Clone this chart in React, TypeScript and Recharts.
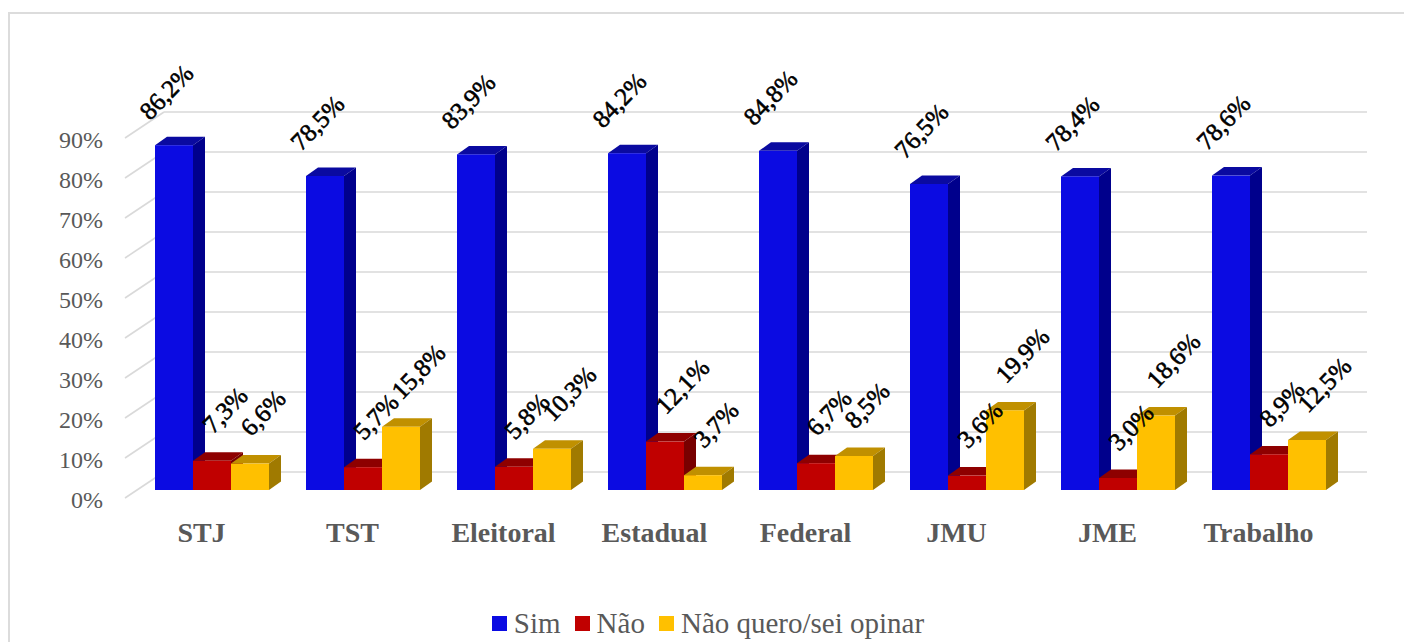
import React from 'react';
import { BarChart, Bar, XAxis, YAxis, CartesianGrid, Legend, LabelList } from 'recharts';

const categories = ['STJ', 'TST', 'Eleitoral', 'Estadual', 'Federal', 'JMU', 'JME', 'Trabalho'];
const simValues = [86.2, 78.5, 83.9, 84.2, 84.8, 76.5, 78.4, 78.6];
const naoValues = [7.3, 5.7, 5.8, 12.1, 6.7, 3.6, 3.0, 8.9];
const opinarValues = [6.6, 15.8, 10.3, 3.7, 8.5, 19.9, 18.6, 12.5];
const yTicks = [0, 10, 20, 30, 40, 50, 60, 70, 80, 90];
const seriesNames = ['Sim', 'Não', 'Não quero/sei opinar'];

const data = categories.map((c, i) => ({
  name: c,
  sim: simValues[i],
  nao: naoValues[i],
  opinar: opinarValues[i],
}));

const FONT = '"Liberation Serif", "Times New Roman", serif';
const DX = 12;
const DY = 8.5;

const COLORS = {
  sim: { front: '#0B0BE2', top: '#0A0AA0', side: '#00008C' },
  nao: { front: '#C00000', top: '#8E0000', side: '#780000' },
  opinar: { front: '#FFC000', top: '#C09000', side: '#A07A00' },
};

const make3D = (c: { front: string; top: string; side: string }) => (props: any) => {
  const { x, y, width, height } = props;
  if (x == null || y == null || !width || height == null) return <g />;
  return (
    <g>
      <polygon
        points={`${x},${y} ${x + DX},${y - DY} ${x + width + DX},${y - DY} ${x + width},${y}`}
        fill={c.top}
      />
      <polygon
        points={`${x + width},${y} ${x + width + DX},${y - DY} ${x + width + DX},${y + height - DY} ${x + width},${y + height}`}
        fill={c.side}
      />
      <rect x={x} y={y} width={width} height={height} fill={c.front} />
    </g>
  );
};

const makeLabel = (offX: number, offY: number) => (props: any) => {
  const { x, y, width, value } = props;
  if (x == null || value == null) return null;
  const sx = x + width / 2 + offX;
  const sy = y + offY;
  const txt = `${Number(value).toFixed(1).replace('.', ',')}%`;
  return (
    <text
      x={sx}
      y={sy}
      transform={`rotate(-46 ${sx} ${sy})`}
      textAnchor="start"
      fontFamily={FONT}
      fontSize={25}
      fill="#000000"
      stroke="#000000"
      strokeWidth={0.6}
    >
      {txt}
    </text>
  );
};

const gridLine = (props: any) => {
  const { x1, x2, y1, key } = props;
  return (
    <g key={key}>
      <line x1={x1 + 28} y1={y1 - 18} x2={x2 + 23} y2={y1 - 18} stroke="#d9d9d9" strokeWidth={1.6} />
      <line x1={x1 - 11} y1={y1 + 8} x2={x1 + 28} y2={y1 - 18} stroke="#d9d9d9" strokeWidth={1.6} />
    </g>
  );
};

const YTick = (props: any) => {
  const { x, y, payload } = props;
  return (
    <text x={x} y={y + 10} textAnchor="end" dominantBaseline="central" fontFamily={FONT} fontSize={24} fill="#595959">
      {`${payload.value}%`}
    </text>
  );
};

const XTick = (props: any) => {
  const { x, y, payload } = props;
  return (
    <text x={x - 10} y={y + 52} textAnchor="middle" fontFamily={FONT} fontSize={28} fontWeight="bold" fill="#595959">
      {payload.value}
    </text>
  );
};

const legendColors = [COLORS.sim.front, COLORS.nao.front, COLORS.opinar.front];

const renderLegend = () => (
  <div
    style={{
      display: 'flex',
      justifyContent: 'center',
      alignItems: 'center',
      fontFamily: FONT,
      fontSize: 29,
      color: '#595959',
      height: 38,
    }}
  >
    {seriesNames.map((n, i) => (
      <div key={n} style={{ display: 'flex', alignItems: 'center', marginRight: i < seriesNames.length - 1 ? 14 : 0 }}>
        <span style={{ display: 'inline-block', width: 15, height: 15, background: legendColors[i], marginRight: 7 }} />
        <span>{n}</span>
      </div>
    ))}
  </div>
);

export default function App() {
  return (
    <div style={{ position: 'relative', width: 1404, height: 642 }}>
      <style>{`html,body{margin:0;padding:0;overflow:hidden;background:#fff}`}</style>
      <div
        style={{
          position: 'absolute',
          left: 8,
          top: 12,
          width: 1396,
          height: 630,
          borderTop: '2px solid #dcdcdc',
          borderLeft: '2px solid #dcdcdc',
          boxSizing: 'border-box',
        }}
      />
      <div style={{ position: 'absolute', left: 0, top: 0 }}>
        <BarChart
          width={1404}
          height={642}
          data={data}
          margin={{ top: 130, right: 60, bottom: 112, left: 0 }}
          barGap={0}
          barSize={38}
        >
          <CartesianGrid vertical={false} horizontal={gridLine} />
          <XAxis
            dataKey="name"
            axisLine={false}
            tickLine={false}
            tickSize={0}
            tickMargin={0}
            height={40}
            tick={<XTick />}
            interval={0}
          />
          <YAxis
            domain={[0, 90]}
            ticks={yTicks}
            axisLine={false}
            tickLine={false}
            tickSize={0}
            tickMargin={33}
            width={136}
            tick={<YTick />}
            allowDataOverflow
          />
          <Legend
            verticalAlign="middle"
            layout="horizontal"
            content={renderLegend}
            wrapperStyle={{ top: 604, left: 0, width: 1416 }}
          />
          <Bar dataKey="sim" name={seriesNames[0]} isAnimationActive={false} shape={make3D(COLORS.sim)}>
            <LabelList dataKey="sim" content={makeLabel(-24, -24)} />
          </Bar>
          <Bar dataKey="nao" name={seriesNames[1]} isAnimationActive={false} shape={make3D(COLORS.nao)}>
            <LabelList dataKey="nao" content={makeLabel(1, -26)} />
          </Bar>
          <Bar dataKey="opinar" name={seriesNames[2]} isAnimationActive={false} shape={make3D(COLORS.opinar)}>
            <LabelList dataKey="opinar" content={makeLabel(1, -26)} />
          </Bar>
        </BarChart>
      </div>
    </div>
  );
}
